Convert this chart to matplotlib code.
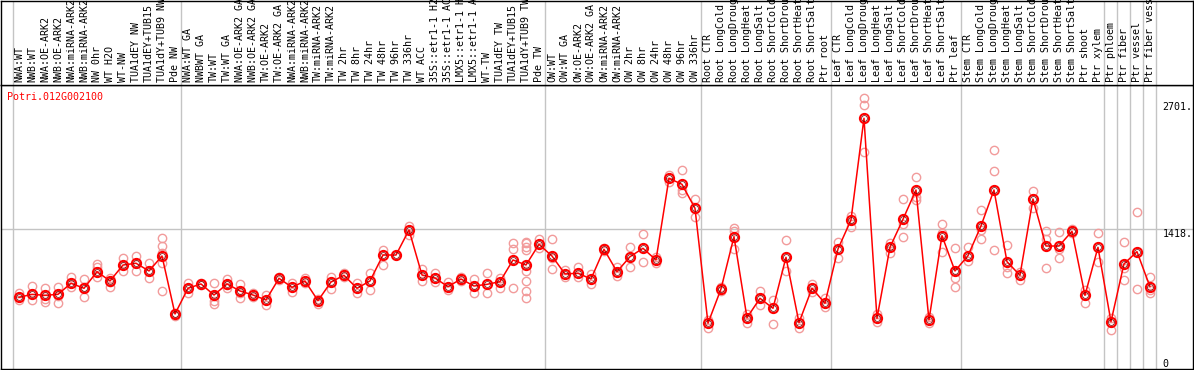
import matplotlib
matplotlib.use("Agg")
import matplotlib.pyplot as plt
import matplotlib.transforms as mtransforms

plt.rcParams["font.family"] = ["DejaVu Sans Mono"]
plt.rcParams["font.size"] = 7.2

gene = "Potri.012G002100"

samples = [
    "NWA:WT", "NWB:WT", "NWA:OE-ARK2", "NWB:OE-ARK2", "NWA:miRNA-ARK2",
    "NWB:miRNA-ARK2", "NW 0hr", "WT H2O", "WT-NW", "TUA1dEY NW",
    "TUA1dEY+TUB15", "TUA1dY+TUB9 NW", "Pde NW",
    "NWA:WT GA", "NWBWT GA", "TW:WT", "TW:WT GA", "NWA:OE-ARK2 GA",
    "NWB:OE-ARK2 GA", "TW:OE-ARK2", "TW:OE-ARK2 GA", "NWA:miRNA-ARK2",
    "NWB:miRNA-ARK2", "TW:miRNA-ARK2", "TW:miRNA-ARK2", "TW 2hr", "TW 8hr",
    "TW 24hr", "TW 48hr", "TW 96hr", "TW 336hr", "WT ACC", "35S::etr1-1 H2",
    "35S::etr1-1 AC", "LMX5::etr1-1 H", "LMX5::etr1-1 A", "WT-TW",
    "TUA1dEY TW", "TUA1dEY+TUB15", "TUA1dY+TUB9 TW", "Pde TW",
    "OW:WT", "OW:WT GA", "OW:OE-ARK2", "OW:OE-ARK2 GA", "OW:miRNA-ARK2",
    "OW:miRNA-ARK2", "OW 2hr", "OW 8hr", "OW 24hr", "OW 48hr", "OW 96hr",
    "OW 336hr",
    "Root CTR", "Root LongCold", "Root LongDroug", "Root LongHeat",
    "Root LongSalt", "Root ShortCold", "Root ShortDrou", "Root ShortHeat",
    "Root ShortSalt", "Ptr root",
    "Leaf CTR", "Leaf LongCold", "Leaf LongDroug", "Leaf LongHeat",
    "Leaf LongSalt", "Leaf ShortCold", "Leaf ShortDrou", "Leaf ShortHeat",
    "Leaf ShortSalt", "Ptr leaf",
    "Stem CTR", "Stem LongCold", "Stem LongDroug", "Stem LongHeat",
    "Stem LongSalt", "Stem ShortCold", "Stem ShortDrou", "Stem ShortHeat",
    "Stem ShortSalt", "Ptr shoot", "Ptr xylem",
    "Ptr phloem", "Ptr fiber", "Ptr vessel", "Ptr fiber vess",
]

# first sample index of every study block
group_starts = [0, 13, 41, 53, 63, 73, 84, 85, 86, 87, 88]

means = [
    724, 754, 744, 754, 866, 815, 983, 889, 1050, 1068, 990, 1141, 556,
    815, 859, 747, 859, 788, 747, 697, 916, 825, 889, 690, 879, 946, 815,
    889, 1151, 1151, 1404, 949, 919, 831, 909, 838, 855, 882, 1101, 1050,
    1259,
    1141, 960, 967, 909, 1209, 983, 1134, 1219, 1101, 1926, 1865, 1623,
    462, 808, 1336, 518, 714, 613, 1128, 468, 815, 664,
    1212, 1505, 2532, 512, 1229, 1512, 1808, 495, 1346, 990,
    1144, 1444, 1808, 1084, 946, 1717, 1242, 1242, 1391, 744, 1229,
    478, 1061, 1185, 831,
]

replicates = [
    [768, 727, 697], [838, 758, 697], [818, 707, 677], [828, 737, 667],
    [929, 869, 828], [909, 828, 727], [1060, 1030, 929], [919, 879, 828],
    [1121, 1050, 990], [1141, 1071, 990], [1071, 990, 919],
    [1323, 1242, 1172, 1071, 788], [566, 535],
    [869, 818, 768], [869, 848], [869, 737, 687, 657], [909, 848, 818],
    [859, 768, 717], [768, 727], [747, 646], [929, 899], [869, 778],
    [919, 869], [707, 657], [929, 808], [970, 929], [869, 768], [970, 798],
    [1202, 1050], [1151], [1444, 1353], [1010, 889], [970, 879], [879, 798],
    [929, 889], [909, 768], [970, 768], [919, 818], [1273, 1212, 818],
    [1283, 1273, 1232, 1202, 990, 889, 788, 717], [1313, 1222],
    [1313, 1121, 1010], [1000, 929], [1030, 929], [960, 859], [1222, 1192],
    [1030, 939], [1232, 1030], [1364, 1081], [1131, 1071], [1959, 1889],
    [2010, 1808, 1778], [1717, 1535],
    [495, 414], [828, 788], [1424, 1394, 1212], [556, 465], [788, 646],
    [697, 454], [1303, 990], [515, 414], [859, 778], [717, 626],
    [1283, 1121], [1545, 1434], [2737, 2666, 2192], [556, 475], [1273, 1172],
    [1717, 1464, 1333], [1939, 1737, 1707], [525, 465], [1464, 1374, 1182],
    [1222, 919, 828],
    [1232, 1091], [1606, 1404, 1313], [2212, 2000, 1202], [1252, 1030, 970],
    [980, 899], [1798, 1626], [1394, 1313, 1020], [1384, 1212, 1121],
    [1414, 1374], [798, 667], [1374, 1081],
    [515, 394], [1283, 1020, 899], [1586, 808], [929, 798, 768],
]

y_ticks = [0, 1418, 2701]
y_tick_labels = ["0", "1418.", "2701."]

W, H = 1194, 370
fig = plt.figure(figsize=(W / 100, H / 100), dpi=100)


def px_box(x0, y0, x1, y1):
    return [x0 / W, 1 - y1 / H, (x1 - x0) / W, (y1 - y0) / H]


ax = fig.add_axes(px_box(1, 85, 1193, 369))
axl = fig.add_axes(px_box(1, 0.5, 1193, 85), sharex=ax)

x = list(range(len(samples)))

# replicate measurements
for i, reps in enumerate(replicates):
    ax.plot([i] * len(reps), reps, "o", mfc="none", mec="#f29b9b",
            ms=6, mew=1.0, zorder=2)

# sample means
ax.plot(x, means, "-", color="#ff0000", lw=1.1, zorder=3)
ax.plot(x, means, "o", mfc="none", mec="#ff0000", ms=6.6, mew=1.5, zorder=4)
ax.plot(x, means, "o", mfc="none", mec="#700000", ms=4.2, mew=0.5, zorder=5)

ax.set_xlim(-1.385, 90.31)
ax.set_ylim(0, 2868)
ax.set_xticks([])
ax.set_yticks([])
axl.set_yticks([])
axl.tick_params(bottom=False, labelbottom=False)

for a in (ax, axl):
    for s in a.spines.values():
        s.set_color("black")
        s.set_linewidth(1.0)

ax.axhline(y_ticks[1], color="#c4c4c4", lw=1.0, zorder=1)
for g in group_starts:
    ax.axvline(g - 0.5, color="#c4c4c4", lw=1.0, zorder=1)
    axl.axvline(g - 0.5, color="#c4c4c4", lw=1.0, zorder=1)

lab_tr = mtransforms.blended_transform_factory(axl.transData, axl.transAxes)
for i, name in enumerate(samples):
    axl.text(i, 0.03, name, rotation=90, ha="center", va="bottom",
             transform=lab_tr, color="black")

tick_tr = mtransforms.blended_transform_factory(ax.transAxes, ax.transData)
for v, lab in zip(y_ticks, y_tick_labels):
    ax.text(0.9745, v, lab, ha="left", va="bottom" if v == 0 else "top",
            transform=tick_tr, color="black")

ax.text(0.005, 0.975, gene, color="#ff0000", ha="left", va="top",
        transform=ax.transAxes)

fig.savefig("out.png", dpi=100)
